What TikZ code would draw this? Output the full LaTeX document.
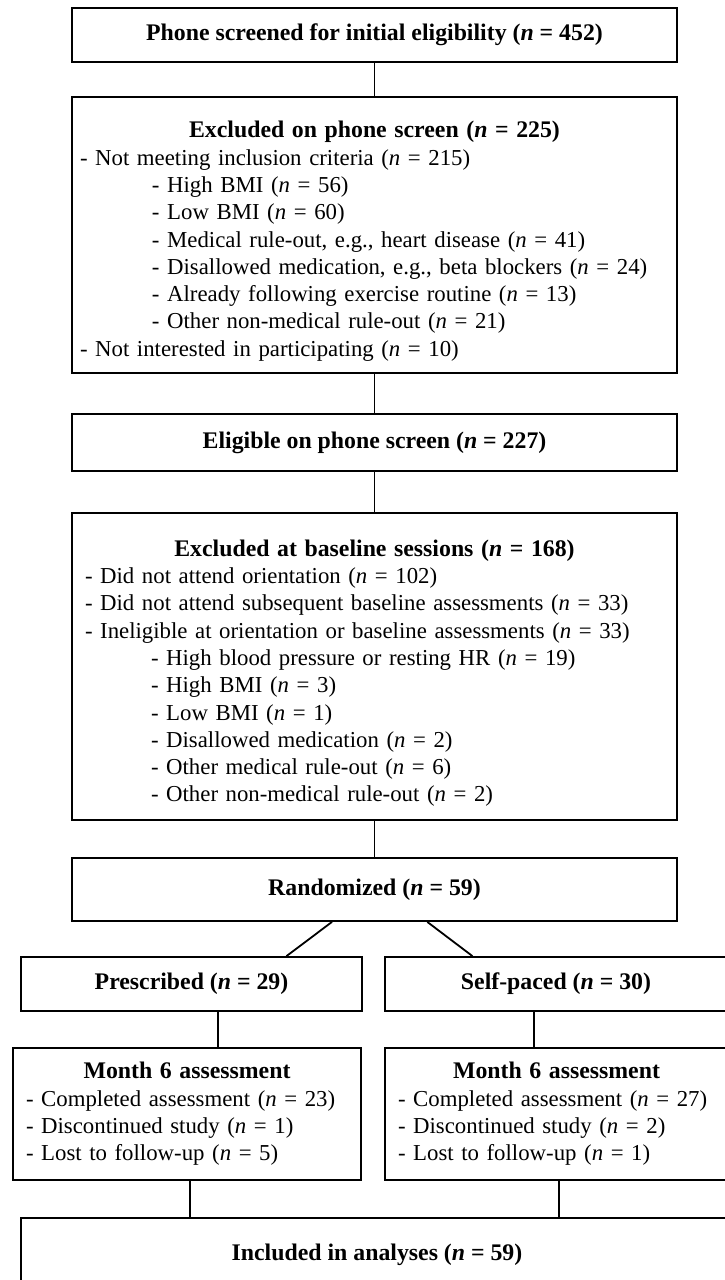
\documentclass[tikz,border=0pt]{standalone}
\usepackage{fontspec}
\setmainfont{Liberation Serif}
\usetikzlibrary{calc}

\tikzset{
  flowbox/.style={draw, minimum width=302.5pt, align=center, inner sep=0pt,
    font=\fontsize{11.9}{13.65}\selectfont},
  listbox/.style={flowbox, minimum width=0pt, align=left, inner xsep=4pt,
    font=\fontsize{11.4}{13.65}\selectfont},
}
\newcommand{\nn}{\textit{n}}
\newcommand{\headline}[2][0pt]{\noindent\makebox[\hsize]{\rule{0pt}{#1}\fontsize{11.9}{13.65}\selectfont\textbf{#2}}\\}

\begin{document}
\begin{tikzpicture}[x=0.5pt, y=-0.5pt, line width=0.9pt]
\useasboundingbox (0,0) rectangle (724,1280);

\node[flowbox, minimum height=27pt] (phone) at (374.5,35)
  {\textbf{Phone screened for initial eligibility (\nn{} = 452)}};
\node[listbox, text width=294.5pt, minimum height=138pt] (exclphone) at (374.5,235) {%
  \headline[14.5pt]{Excluded on phone screen (\nn{} = 225)}
  - Not meeting inclusion criteria (\nn{} = 215)\\
  \hspace*{36pt}- High BMI (\nn{} = 56)\\
  \hspace*{36pt}- Low BMI (\nn{} = 60)\\
  \hspace*{36pt}- Medical rule-out, e.g., heart disease (\nn{} = 41)\\
  \hspace*{36pt}- Disallowed medication, e.g., beta blockers (\nn{} = 24)\\
  \hspace*{36pt}- Already following exercise routine (\nn{} = 13)\\
  \hspace*{36pt}- Other non-medical rule-out (\nn{} = 21)\\
  - Not interested in participating (\nn{} = 10)};
\node[flowbox, minimum height=28.5pt] (eligible) at (374.5,442.5)
  {\textbf{Eligible on phone screen (\nn{} = 227)}};
\node[listbox, inner xsep=6.5pt, text width=289.5pt, minimum height=153.5pt] (exclbase) at (374.5,666.5) {%
  \headline[15pt]{Excluded at baseline sessions (\nn{} = 168)}
  - Did not attend orientation (\nn{} = 102)\\
  - Did not attend subsequent baseline assessments (\nn{} = 33)\\
  - Ineligible at orientation or baseline assessments (\nn{} = 33)\\
  \hspace*{33pt}- High blood pressure or resting HR (\nn{} = 19)\\
  \hspace*{33pt}- High BMI (\nn{} = 3)\\
  \hspace*{33pt}- Low BMI (\nn{} = 1)\\
  \hspace*{33pt}- Disallowed medication (\nn{} = 2)\\
  \hspace*{33pt}- Other medical rule-out (\nn{} = 6)\\
  \hspace*{33pt}- Other non-medical rule-out (\nn{} = 2)};
\node[flowbox, minimum height=31.5pt] (rand) at (374.5,889.5)
  {\textbf{Randomized (\nn{} = 59)}};

% arms
\node[flowbox, minimum width=170.5pt, minimum height=27pt] (presc) at (191.5,984)
  {\textbf{Prescribed (\nn{} = 29)}};
\node[flowbox, minimum width=171pt, minimum height=27pt] (selfp) at (556,984)
  {\textbf{Self-paced (\nn{} = 30)}};
\node[listbox, inner xsep=6.5pt, text width=161pt, minimum height=66pt] (monthl) at (187,1114) {%
  \headline{Month 6 assessment}
  - Completed assessment (\nn{} = 23)\\
  - Discontinued study (\nn{} = 1)\\
  - Lost to follow-up (\nn{} = 5)};
\node[listbox, inner xsep=6.5pt, text width=158.5pt, minimum height=66pt] (monthr) at (556.5,1114) {%
  \headline{Month 6 assessment}
  - Completed assessment (\nn{} = 27)\\
  - Discontinued study (\nn{} = 2)\\
  - Lost to follow-up (\nn{} = 1)};
\node[flowbox, minimum width=356pt, minimum height=37pt] (incl) at (377,1255)
  {\textbf{Included in analyses (\nn{} = 59)}};

\draw[-] (phone.south) -- (exclphone.north); %phone to excluded
\draw[-] (exclphone.south) -- (eligible.north);
\draw[-] (eligible.south) -- (exclbase.north);
\draw[-] (exclbase.south) -- (rand.north);
\draw[-] ($(rand.south west)!0.43!(rand.south east)$) -- ($(presc.north west)!0.777!(presc.north east)$); %rand to prescribed
\draw[-] ($(rand.south west)!0.587!(rand.south east)$) -- ($(selfp.north west)!0.257!(selfp.north east)$); %rand to self-paced
\draw[-] ($(presc.south west)!0.578!(presc.south east)$) coordinate (pd) -- (pd |- monthl.north);
\draw[-] ($(selfp.south west)!0.436!(selfp.south east)$) coordinate (sd) -- (sd |- monthr.north);
\draw[-] ($(monthl.south west)!0.509!(monthl.south east)$) coordinate (ld) -- (ld |- incl.north);
\draw[-] ($(monthr.south west)!0.507!(monthr.south east)$) coordinate (rd) -- (rd |- incl.north);
\end{tikzpicture}
\end{document}
